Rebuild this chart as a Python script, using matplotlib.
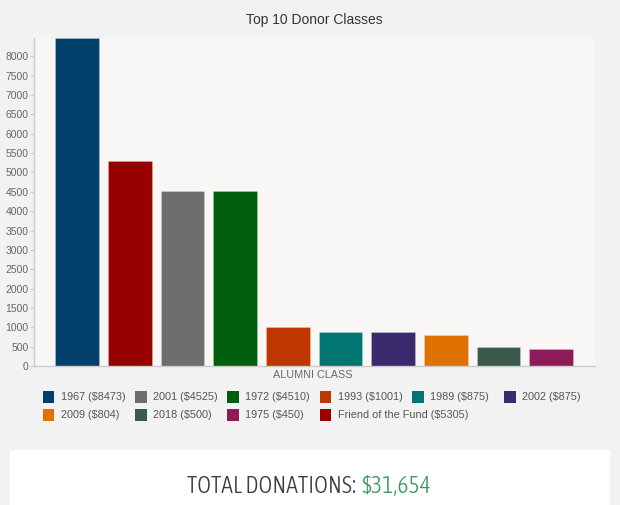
import matplotlib
matplotlib.use("Agg")
import matplotlib.pyplot as plt
from matplotlib import font_manager
from matplotlib.font_manager import FontProperties
from matplotlib.patches import Rectangle

# legend order as in the source data
classes = ['1967', '2001', '1972', '1993', '1989', '2002', '2009', '2018',
           '1975', 'Friend of the Fund']
amounts = [8473, 4525, 4510, 1001, 875, 875, 804, 500, 450, 5305]
colors = ['#023f6a', '#6e6e6e', '#005f0d', '#c03600', '#007572', '#3a2a6e',
          '#df7100', '#3b5a4c', '#8e1a57', '#990000']
total_donations = 31654

W, H = 620, 505
plt.rcParams['font.family'] = ['Liberation Sans', 'DejaVu Sans']


def condensed_font():
    """Look for a narrow/condensed face, light if there is one."""
    best = None
    for f in font_manager.fontManager.ttflist:
        narrow = ('condensed' in str(f.stretch) or 'Condensed' in f.name
                  or 'Narrow' in f.name or 'condensed' in f.fname.lower()
                  or 'narrow' in f.fname.lower())
        if not narrow or 'italic' in f.fname.lower() or f.style != 'normal':
            continue
        w = f.weight if isinstance(f.weight, int) else 400
        score = abs(w - 300)
        if best is None or score < best[0]:
            best = (score, f.fname)
    if best:
        return FontProperties(fname=best[1])
    return FontProperties(family=['Liberation Sans', 'DejaVu Sans'])


fig = plt.figure(figsize=(W / 100, H / 100), dpi=100, facecolor='#f2f2f2')
ax = fig.add_axes([34 / W, 1 - 366 / H, (595 - 34) / W, (366 - 38) / H])
ax.set_facecolor('#f8f7f6')

# bars are drawn biggest first
order = sorted(range(len(amounts)), key=lambda i: -amounts[i])
for pos, i in enumerate(order):
    ax.bar(pos, amounts[i], width=0.83, color=colors[i],
           edgecolor=(1, 1, 1, 0.25), linewidth=0.6, zorder=2)

ax.set_xlim(-0.816, 9.83)
ax.set_ylim(0, max(amounts))
ax.set_yticks(range(0, 8001, 500))
ax.set_xticks([])
ax.tick_params(axis='y', length=3, width=0.8, color='#cccccc', pad=1,
               labelsize=7.5, labelcolor='#666666')
for side in ('top', 'right'):
    ax.spines[side].set_visible(False)
for side in ('left', 'bottom'):
    ax.spines[side].set_color('#cccccc')
    ax.spines[side].set_linewidth(1.0)

fig.text(314 / W, 1 - 20 / H, 'Top 10 Donor Classes', ha='center', va='center',
         fontsize=10, color='#333333')
fig.text(313 / W, 1 - 375 / H, 'ALUMNI CLASS', ha='center', va='center',
         fontsize=7.8, color='#6a6a6a')

# legend: fixed grid, six per row
for i, (c, a) in enumerate(zip(classes, amounts)):
    row, col = divmod(i, 6)
    x = 42.7 + col * 92.3
    yc = 397 + row * 17.5
    fig.add_artist(Rectangle((x / W, 1 - (yc + 6) / H), 11.7 / W, 12 / H,
                             transform=fig.transFigure, color=colors[i], lw=0))
    fig.text((x + 18) / W, 1 - yc / H, f'{c} (${a})', ha='left', va='center',
             fontsize=7.8, color='#555555')

# total box at the bottom
fig.add_artist(Rectangle((10 / W, 0), 600 / W, 55 / H, transform=fig.transFigure,
                         facecolor='white', lw=0))
fp = condensed_font()
t1 = fig.text(0, 1 - 493 / H, 'TOTAL DONATIONS:', ha='left', va='baseline',
              fontproperties=fp, fontsize=20, color='#3d3d3d')
t2 = fig.text(0, 1 - 493 / H, f'${total_donations:,}', ha='left', va='baseline',
              fontproperties=fp, fontsize=20, color='#3a9a5e')
fig.canvas.draw()
r = fig.canvas.get_renderer()
w1 = t1.get_window_extent(r).width
w2 = t2.get_window_extent(r).width
# fit the line to the width it has in the reference, but not taller than it
size = min(22, 20 * 240 / (w1 + w2))
t1.set_fontsize(size)
t2.set_fontsize(size)
fig.canvas.draw()
w1 = t1.get_window_extent(r).width
w2 = t2.get_window_extent(r).width
gap = 6
start = 309 - (w1 + gap + w2) / 2
t1.set_x(start / W)
t2.set_x((start + w1 + gap) / W)

fig.savefig('out.png', dpi=100, facecolor=fig.get_facecolor())
